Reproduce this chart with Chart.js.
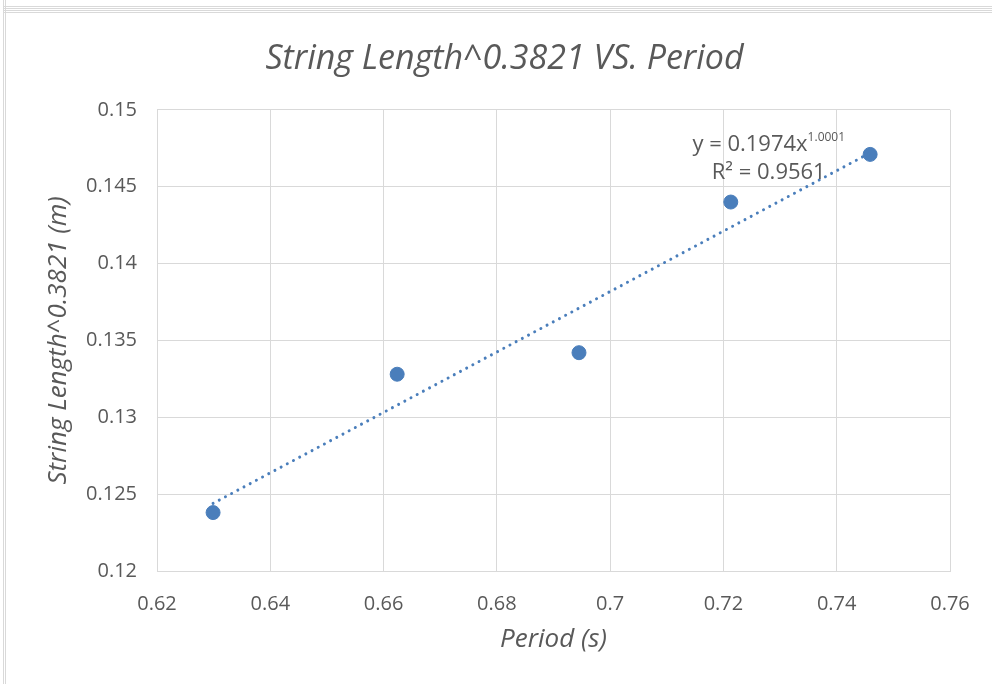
<!DOCTYPE html>
<html>
<head>
<meta charset="utf-8">
<script src="https://cdn.jsdelivr.net/npm/chart.js@4.4.0/dist/chart.umd.min.js"></script>
<style>
    html, body { margin: 0; padding: 0; background: #fff; }
    #wrap { position: relative; width: 992px; height: 684px; }
    #frameTop { position: absolute; left: 4px; right: 0; top: 6px; height: 1px; border-top: 1px solid #d9d9d9; border-bottom: 1px solid #d9d9d9; }
    #frameTop2 { position: absolute; left: 4px; right: 0; top: 10px; height: 1px; border-top: 1px solid #d9d9d9; border-bottom: 1px solid #d9d9d9; }
    #frameLeft { position: absolute; left: 3px; top: 0; bottom: 0; width: 1px; border-left: 1px solid #d9d9d9; border-right: 1px solid #d9d9d9; }
    canvas { position: absolute; left: 0; top: 0; }
</style>
</head>
<body>
<div id="wrap">
    <div id="frameTop"></div>
    <div id="frameTop2"></div>
    <div id="frameLeft"></div>
    <canvas id="myScatter" width="992" height="684"></canvas>
</div>
<script>
var periods = [0.6299, 0.6624, 0.6945, 0.7213, 0.7459];
var lengths = [0.1238, 0.1328, 0.1342, 0.1440, 0.1471];

// trendline ends (y = 0.1974x^1.0001)
var trendX = [0.6299, 0.7459];
var trendY = [0.1244, 0.1472];

var xTicks = [0.62, 0.64, 0.66, 0.68, 0.7, 0.72, 0.74, 0.76];
var yTicks = [0.12, 0.125, 0.13, 0.135, 0.14, 0.145, 0.15];

var blue = '#4a7ebb';
var textGrey = '#595959';
var fontName = "'Open Sans', 'Liberation Sans', sans-serif";

var pointData = periods.map(function (p, i) { return { x: p, y: lengths[i] }; });
var trendData = trendX.map(function (p, i) { return { x: p, y: trendY[i] }; });

// equation label next to the trendline
var trendLabel = {
    id: 'trendLabel',
    afterDatasetsDraw: function (chart) {
        var c = chart.ctx;
        var xs = chart.scales.x, ys = chart.scales.y;
        var cx = xs.getPixelForValue(0.728);
        c.save();
        c.fillStyle = textGrey;
        c.textBaseline = 'middle';
        c.font = '22px ' + fontName;
        var main = 'y = 0.1974x';
        var sup = '1.0001';
        var w1 = c.measureText(main).width;
        c.font = '12px ' + fontName;
        var w2 = c.measureText(sup).width;
        var left = cx - (w1 + w2) / 2;
        var y1 = ys.getPixelForValue(0.1477);
        c.font = '22px ' + fontName;
        c.textAlign = 'left';
        c.fillText(main, left, y1);
        c.font = '12px ' + fontName;
        c.fillText(sup, left + w1, y1 - 8);
        c.font = '22px ' + fontName;
        c.textAlign = 'center';
        c.fillText('R² = 0.9561', cx, ys.getPixelForValue(0.1459));
        c.restore();
    }
};

var ctx = document.getElementById('myScatter').getContext('2d');

var myScatter = new Chart(ctx, {
    type: 'scatter',
    data: {
        datasets: [{
            label: 'Trend',
            type: 'line',
            data: trendData,
            borderColor: blue,
            borderWidth: 3,
            borderDash: [0.01, 7],
            borderCapStyle: 'round',
            pointRadius: 0,
            fill: false,
            order: 1
        }, {
            label: 'Data',
            data: pointData,
            backgroundColor: blue,
            borderColor: blue,
            pointRadius: 7,
            order: 2
        }]
    },
    options: {
        responsive: false,
        animation: false,
        layout: {
            padding: { left: 59, right: 42, top: 39, bottom: 25 }
        },
        plugins: {
            legend: { display: false },
            tooltip: { enabled: false },
            title: {
                display: true,
                text: 'String Length^0.3821 VS. Period',
                color: textGrey,
                font: { family: fontName, size: 34, style: 'italic', weight: 'normal' },
                padding: { top: 0, bottom: 30 }
            }
        },
        scales: {
            x: {
                type: 'linear',
                min: 0.62,
                max: 0.76,
                afterBuildTicks: function (scale) {
                    scale.ticks = xTicks.map(function (v) { return { value: v }; });
                },
                afterFit: function (scale) { scale.height = 88; },
                grid: { color: '#d9d9d9', lineWidth: 1, drawTicks: false },
                border: { color: '#d9d9d9' },
                ticks: {
                    color: textGrey,
                    padding: 21,
                    font: { family: fontName, size: 20 },
                    callback: function (v) { return String(v); }
                },
                title: {
                    display: true,
                    text: 'Period (s)',
                    color: textGrey,
                    font: { family: fontName, size: 26, style: 'italic' }
                }
            },
            y: {
                type: 'linear',
                min: 0.12,
                max: 0.15,
                afterBuildTicks: function (scale) {
                    scale.ticks = yTicks.map(function (v) { return { value: v }; });
                },
                afterFit: function (scale) { scale.width = 98; },
                grid: { color: '#d9d9d9', lineWidth: 1, drawTicks: false },
                border: { color: '#d9d9d9' },
                ticks: {
                    color: textGrey,
                    padding: 20,
                    font: { family: fontName, size: 20 },
                    callback: function (v) { return String(v); }
                },
                title: {
                    display: true,
                    text: 'String Length^0.3821 (m)',
                    color: textGrey,
                    padding: { top: -16, bottom: 4 },
                    font: { family: fontName, size: 26, style: 'italic' }
                }
            }
        }
    },
    plugins: [trendLabel]
});
</script>
</body>
</html>
